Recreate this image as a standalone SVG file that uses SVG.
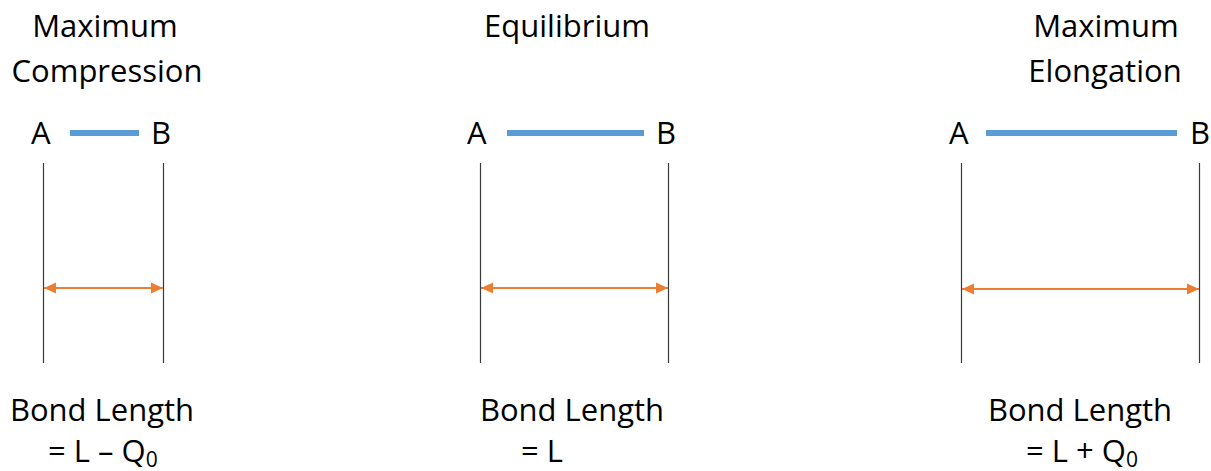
<svg xmlns="http://www.w3.org/2000/svg" width="1211" height="471" viewBox="0 0 1211 471">
<style>
text{font-family:"Open Sans","Noto Sans",sans-serif;font-size:31px;fill:#000}
.m{text-anchor:middle}
.sub{font-size:21px}
.bond{stroke:#5B9BD5;stroke-width:6;fill:none}
.wall{stroke:#3a3a3a;stroke-width:1.2;fill:none}
.len{stroke:#ED7D31;stroke-width:2;fill:none;marker-start:url(#ah);marker-end:url(#ah)}
</style>
<defs>
<marker id="ah" viewBox="0 0 12 12" refX="12" refY="6" markerWidth="12" markerHeight="12" markerUnits="userSpaceOnUse" orient="auto-start-reverse">
<path d="M0,0.5 L12,6 L0,11.5 Z" fill="#ED7D31"/>
</marker>
</defs>
<g id="compression">
<text class="m" x="105" y="37">Maximum</text>
<text class="m" x="107" y="82">Compression</text>
<text x="31" y="144">A</text>
<text x="151" y="144">B</text>
<line class="bond" x1="70" y1="133" x2="139" y2="133"/>
<text class="m" x="102" y="421">Bond Length</text>
<text x="48" y="462">= L – Q<tspan class="sub" dy="5">0</tspan></text>
</g>
<g id="equilibrium">
<text class="m" x="567" y="37">Equilibrium</text>
<text x="467" y="144">A</text>
<text x="656" y="144">B</text>
<line class="bond" x1="507" y1="133" x2="644" y2="133"/>
<text class="m" x="572" y="421">Bond Length</text>
<text x="521" y="462">= L</text>
</g>
<g id="elongation">
<text class="m" x="1106" y="37">Maximum</text>
<text class="m" x="1105" y="82">Elongation</text>
<text x="949" y="144">A</text>
<text x="1190" y="144">B</text>
<line class="bond" x1="986" y1="133" x2="1177" y2="133"/>
<text class="m" x="1080" y="421">Bond Length</text>
<text x="1026" y="462">= L + Q<tspan class="sub" dy="5">0</tspan></text>
</g>
<g id="connectors">
<line class="wall" x1="43.5" y1="163" x2="43.5" y2="363"/>
<line class="wall" x1="163.5" y1="163" x2="163.5" y2="363"/>
<line class="len" x1="44" y1="288" x2="163" y2="288"/>
<line class="wall" x1="480.5" y1="163" x2="480.5" y2="363"/>
<line class="wall" x1="668.5" y1="163" x2="668.5" y2="363"/>
<line class="len" x1="481" y1="288" x2="668" y2="288"/>
<line class="wall" x1="961.5" y1="163" x2="961.5" y2="363"/>
<line class="wall" x1="1199.5" y1="163" x2="1199.5" y2="363"/>
<line class="len" x1="962" y1="289" x2="1199" y2="289"/>
</g>
</svg>
